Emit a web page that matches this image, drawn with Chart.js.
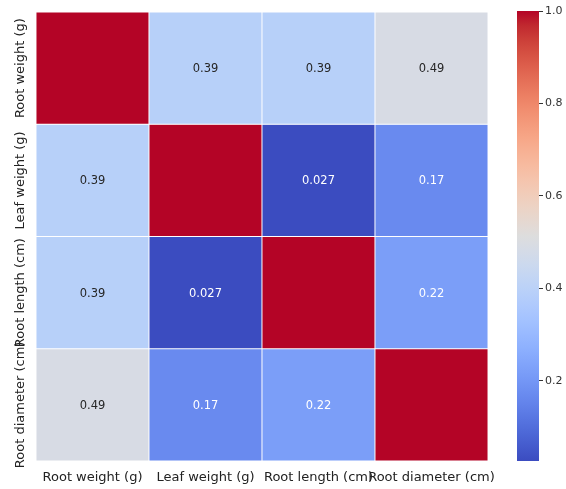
<!DOCTYPE html>
<html>
<head>
<meta charset="utf-8">
<script src="https://cdn.jsdelivr.net/npm/chart.js@4"></script>
<style>
  body { margin: 0; background: #fff; }
  #wrap { position: relative; width: 566px; height: 489px; }
  #heat { position: absolute; left: 0; top: 0; }
  #bar { position: absolute; left: 500px; top: 0; }
</style>
</head>
<body>
<div id="wrap">
  <canvas id="heat" width="500" height="489"></canvas>
  <canvas id="bar" width="66" height="489"></canvas>
</div>
<script>
const variables = ['Root weight (g)', 'Leaf weight (g)', 'Root length (cm)', 'Root diameter (cm)']
const rootWeight = [1, 0.39, 0.39, 0.49]
const leafWeight = [0.39, 1, 0.027, 0.17]
const rootLength = [0.39, 0.027, 1, 0.22]
const rootDiameter = [0.49, 0.17, 0.22, 1]
const rows = [rootWeight, leafWeight, rootLength, rootDiameter]
const vmin = 0.027
const vmax = 1.0
const colorbarTicks = [0.2, 0.4, 0.6, 0.8, 1.0]

// matplotlib coolwarm, sampled
const coolwarm = [
  [59,76,192],[68,90,204],[77,104,215],[87,117,225],[98,130,234],[108,142,241],
  [119,154,247],[130,165,251],[141,176,254],[152,185,255],[163,194,255],[174,201,253],
  [184,208,249],[194,213,244],[204,217,238],[213,219,230],[221,221,221],[229,216,209],
  [236,211,197],[241,204,185],[245,196,173],[247,187,160],[247,177,148],[247,166,135],
  [244,154,123],[241,141,111],[236,127,99],[229,112,88],[222,96,77],[213,80,66],
  [203,62,56],[192,40,47],[180,4,38]
]

function cmap(t) {
  t = Math.max(0, Math.min(1, t))
  const p = t * (coolwarm.length - 1)
  const i = Math.min(Math.floor(p), coolwarm.length - 2)
  const f = p - i
  const a = coolwarm[i], b = coolwarm[i + 1]
  return [0, 1, 2].map(k => Math.round(a[k] + (b[k] - a[k]) * f))
}
const norm = v => (v - vmin) / (vmax - vmin)
const rgb = c => `rgb(${c[0]},${c[1]},${c[2]})`

function textColor(c) {
  const lin = c.map(x => { x /= 255; return x <= 0.03928 ? x / 12.92 : Math.pow((x + 0.055) / 1.055, 2.4) })
  const lum = 0.2126 * lin[0] + 0.7152 * lin[1] + 0.0722 * lin[2]
  return lum > 0.408 ? '#262626' : '#ffffff'
}

const FONT = 'DejaVu Sans'

const annotate = {
  id: 'annotate',
  afterDatasetsDraw(chart) {
    const ctx = chart.ctx
    ctx.save()
    ctx.font = `11.5px "${FONT}"`
    ctx.textAlign = 'center'
    ctx.textBaseline = 'middle'
    chart.data.datasets.forEach((ds, r) => {
      chart.getDatasetMeta(r).data.forEach((bar, c) => {
        if (r === c) return
        const v = rows[r][c]
        const p = bar.getCenterPoint()
        ctx.fillStyle = textColor(cmap(norm(v)))
        ctx.fillText(String(v), p.x, p.y + 1)
      })
    })
    // row labels, rotated
    const y = chart.scales.y
    ctx.font = `13px "${FONT}"`
    ctx.fillStyle = '#222'
    variables.forEach((name, r) => {
      ctx.save()
      ctx.translate(21, y.getPixelForValue(r + 0.5))
      ctx.rotate(-Math.PI / 2)
      ctx.fillText(name, 0, 0)
      ctx.restore()
    })
    ctx.restore()
  }
}

new Chart(document.getElementById('heat'), {
  type: 'bar',
  data: {
    labels: variables,
    datasets: rows.map((row, r) => ({
      label: variables[r],
      data: row.map(() => 1),
      backgroundColor: row.map(v => rgb(cmap(norm(v)))),
      borderColor: '#ffffff',
      borderWidth: 0.8,
      borderSkipped: false,
      barPercentage: 1,
      categoryPercentage: 1
    }))
  },
  options: {
    responsive: false,
    animation: false,
    layout: { padding: { top: 12, right: 12, left: 0, bottom: 0 } },
    plugins: { legend: { display: false }, tooltip: { enabled: false } },
    scales: {
      x: {
        stacked: true,
        grid: { display: false },
        border: { display: false },
        ticks: { font: { family: FONT, size: 13 }, color: '#222', padding: 1, maxRotation: 0, autoSkip: false },
        afterFit: s => { s.height = 28 }
      },
      y: {
        stacked: true,
        min: 0,
        max: 4,
        reverse: true,
        grid: { display: false },
        border: { display: false },
        ticks: { display: false },
        afterFit: s => { s.width = 36 }
      }
    }
  },
  plugins: [annotate]
})

new Chart(document.getElementById('bar'), {
  type: 'bar',
  data: {
    labels: [''],
    datasets: [{
      data: [[vmin, vmax]],
      backgroundColor(context) {
        const area = context.chart.chartArea
        if (!area) return null
        const g = context.chart.ctx.createLinearGradient(0, area.bottom, 0, area.top)
        coolwarm.forEach((c, i) => g.addColorStop(i / (coolwarm.length - 1), rgb(c)))
        return g
      },
      borderWidth: 0,
      barPercentage: 1,
      categoryPercentage: 1
    }]
  },
  options: {
    responsive: false,
    animation: false,
    layout: { padding: { top: 11, left: 17, right: 0, bottom: 28 } },
    plugins: { legend: { display: false }, tooltip: { enabled: false } },
    scales: {
      x: { display: false },
      y: {
        position: 'right',
        min: vmin,
        max: vmax,
        afterBuildTicks: s => { s.ticks = colorbarTicks.map(v => ({ value: v })) },
        grid: { drawOnChartArea: false, drawTicks: true, tickLength: 4, tickColor: '#333', tickWidth: 1 },
        border: { display: false },
        ticks: { font: { family: FONT, size: 11 }, color: '#333', padding: 2, callback: v => v.toFixed(1) },
        afterFit: s => { s.width = 27 }
      }
    }
  }
})
</script>
</body>
</html>
